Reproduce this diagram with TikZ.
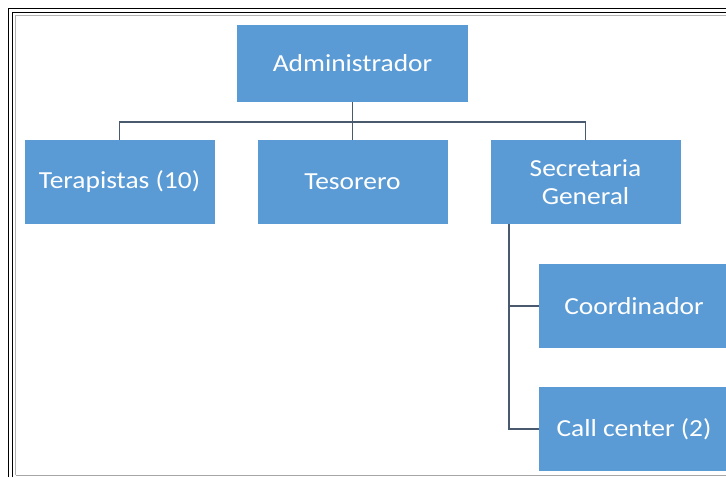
\documentclass[tikz,border=0pt]{standalone}
\usepackage{fontspec}
\setmainfont[FakeStretch=1.12]{Carlito}
\definecolor{boxblue}{HTML}{5B9BD5}
\definecolor{linecol}{HTML}{4A5A6E}
\begin{document}
\begin{tikzpicture}[x=1pt,y=-1pt,
  orgbox/.style={fill=boxblue, draw=none, text=white, font=\fontsize{24.5}{28}\selectfont, align=center, inner sep=0pt, minimum width=190pt, minimum height=84pt},
  conn/.style={draw=linecol, line width=1.4pt}]
\useasboundingbox (0,0) rectangle (726,477);
\clip (0,0) rectangle (726,477);
% frame
\draw[black, line width=1.6pt] (8.5,477) -- (8.5,8.5) -- (730,8.5);
\draw[black, line width=1.2pt] (12.5,477) -- (12.5,12.5) -- (730,12.5);
\draw[gray!60, line width=0.8pt] (15.5,475) -- (15.5,15.5) -- (730,15.5);
\draw[gray!70, line width=1pt] (15.5,475) -- (730,475);
% nodes
\node[orgbox, minimum width=231pt, minimum height=77pt] (admin) at (352.5,63.5) {Administrador};
\node[orgbox] (terap) at (119.5,182) {Terapistas (10)};
\node[orgbox] (tesor) at (352.5,182) {Tesorero};
\node[orgbox] (secre) at (585.5,182) {Secretaria\\General};
\node[orgbox] (coord) at (634,306) {Coordinador};
\node[orgbox] (call) at (634,429) {Call center (2)};
% connectors
\draw[conn] (admin.south) -- (tesor.north);
\draw[conn] (terap.north) -- ++(0,-18) -| (secre.north);
\coordinate (sv) at (509,224);
\draw[conn] (sv) |- (coord.west);
\draw[conn] (sv) |- (call.west);
\end{tikzpicture}
\end{document}
